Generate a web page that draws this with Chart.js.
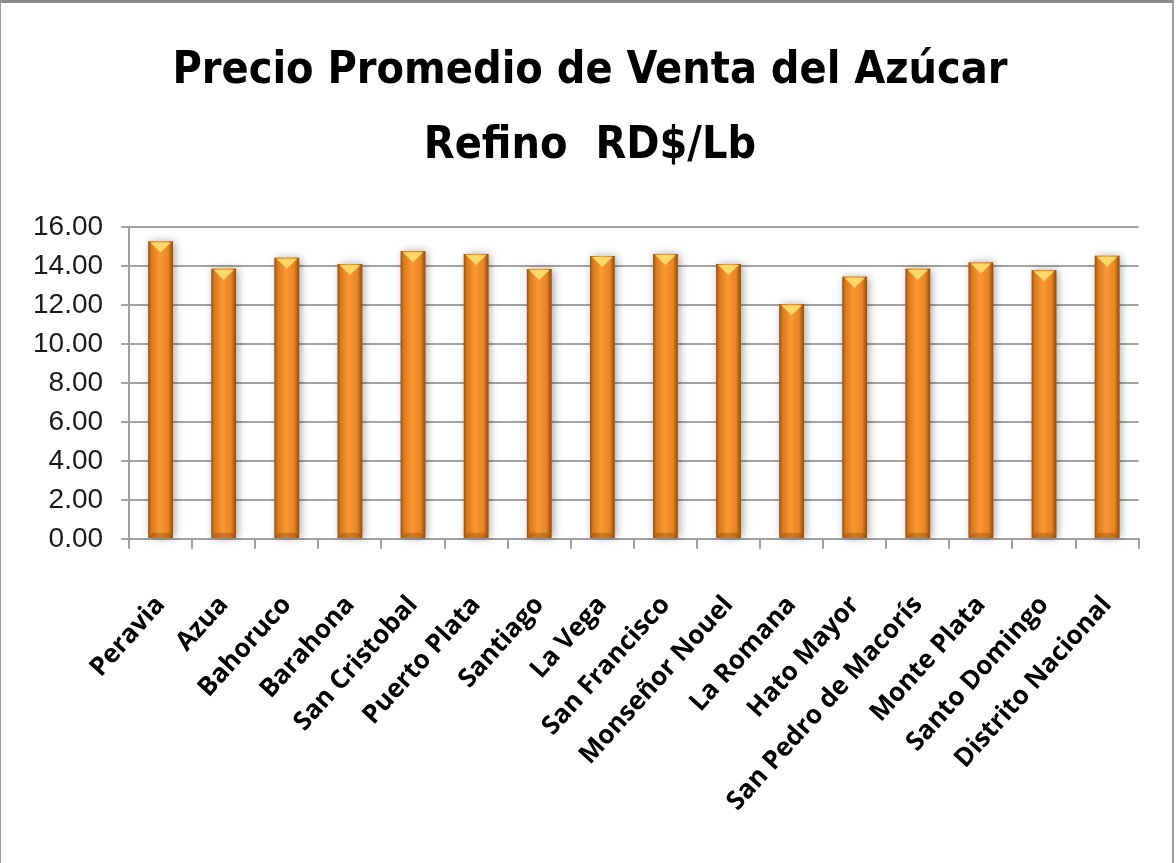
<!DOCTYPE html>
<html>
<head>
<meta charset="utf-8">
<script src="https://cdn.jsdelivr.net/npm/chart.js@4.4.1/dist/chart.umd.min.js"></script>
<style>
    body { margin: 0; background: #fff; }
    #wrap { position: absolute; left: 0; top: 0; width: 1171px; height: 860px; border-top: 3px solid #8c8c8c; border-left: 1px solid #9a9a9a; border-right: 2px solid #a0a0a0; }
    canvas { display: block; }
</style>
</head>
<body>
<div id="wrap"><canvas id="chart" width="1171" height="860"></canvas></div>
<script>
const provincias = ['Peravia', 'Azua', 'Bahoruco', 'Barahona', 'San Cristobal', 'Puerto Plata', 'Santiago', 'La Vega',
    'San Francisco', 'Monseñor Nouel', 'La Romana', 'Hato Mayor', 'San Pedro de Macorís', 'Monte Plata', 'Santo Domingo', 'Distrito Nacional'];
const precios = [15.26, 13.86, 14.42, 14.10, 14.76, 14.61, 13.84, 14.51, 14.61, 14.10, 12.04, 13.45, 13.86, 14.18, 13.78, 14.52];
const titulo = ['Precio Promedio de Venta del Azúcar', 'Refino  RD$/Lb'];

const BAR_PCT = 0.39;

function barFill(c) {
    const chart = c.chart;
    const xs = chart.scales.x;
    if (!xs || c.dataIndex === undefined) return '#f39a30';
    const cx = xs.getPixelForValue(c.dataIndex);
    const w = xs.width / provincias.length * BAR_PCT / 2;
    if (!isFinite(cx) || !isFinite(w) || w <= 0) return '#f39a30';
    const g = chart.ctx.createLinearGradient(cx - w, 0, cx + w, 0);
    g.addColorStop(0, '#9a500d');
    g.addColorStop(0.12, '#d9791c');
    g.addColorStop(0.45, '#fa9834');
    g.addColorStop(0.8, '#e88524');
    g.addColorStop(1, '#8f4c0c');
    return g;
}

// soft shadow behind bars, top bevel and darker foot on top of them
const bevel = {
    id: 'bevel',
    beforeDatasetsDraw(chart) {
        const ctx = chart.ctx;
        chart.getDatasetMeta(0).data.forEach(bar => {
            ctx.save();
            ctx.shadowColor = 'rgba(0,0,0,0.35)';
            ctx.shadowBlur = 8;
            ctx.shadowOffsetX = 2;
            ctx.fillStyle = '#d07a20';
            ctx.fillRect(bar.x - bar.width / 2, bar.y, bar.width, bar.base - bar.y);
            ctx.restore();
        });
    },
    afterDatasetsDraw(chart) {
        const ctx = chart.ctx;
        chart.getDatasetMeta(0).data.forEach(bar => {
            const l = bar.x - bar.width / 2, r = bar.x + bar.width / 2;
            ctx.save();
            ctx.fillStyle = '#ffd866';
            ctx.beginPath();
            ctx.moveTo(l + 2, bar.y + 1);
            ctx.lineTo(r - 2, bar.y + 1);
            ctx.lineTo(bar.x, bar.y + 11);
            ctx.closePath();
            ctx.fill();
            ctx.fillStyle = 'rgba(110,55,0,0.30)';
            ctx.beginPath();
            ctx.moveTo(l, bar.base);
            ctx.lineTo(l + 4, bar.base - 5);
            ctx.lineTo(r - 4, bar.base - 5);
            ctx.lineTo(r, bar.base);
            ctx.closePath();
            ctx.fill();
            ctx.restore();
        });
    }
};

const ctx = document.getElementById('chart');
const data = {
    labels: provincias,
    datasets: [{
        label: 'Precio',
        data: precios,
        backgroundColor: barFill,
        borderWidth: 0,
        barPercentage: BAR_PCT,
        categoryPercentage: 1.0,
    }]
};
const config = {
    type: 'bar',
    data: data,
    plugins: [bevel],
    options: {
        responsive: false,
        animation: false,
        layout: {
            // symmetric-ish padding so the title sits on the picture's centre
            padding: { left: 24, right: 17, top: 31, bottom: 5 }
        },
        plugins: {
            legend: { display: false },
            tooltip: { enabled: false },
            title: {
                display: true,
                text: titulo,
                color: '#000',
                font: { family: "'DejaVu Sans Condensed', sans-serif", size: 44.5, weight: 'bold', lineHeight: 1.685 },
                padding: { top: 0, bottom: 43 }
            }
        },
        scales: {
            x: {
                grid: { display: true, drawOnChartArea: false, drawTicks: true, tickLength: 10, offset: true, color: '#a0a0a0', lineWidth: 2 },
                border: { color: '#a0a0a0', width: 2 },
                ticks: {
                    color: '#000',
                    minRotation: 48,
                    maxRotation: 48,
                    padding: 41,
                    font: { family: "'Open Sans', sans-serif", size: 26, weight: 'bold' }
                }
            },
            y: {
                min: 0,
                max: 16,
                grid: { color: '#a3a3a3', lineWidth: 2, tickLength: 8 },
                border: { color: '#a0a0a0', width: 2 },
                ticks: {
                    stepSize: 2,
                    color: '#1a1a1a',
                    padding: 18,
                    font: { family: "'Liberation Sans', sans-serif", size: 28 },
                    callback: v => v.toFixed(2)
                },
                afterFit: s => { s.width -= 10; }
            },
            // empty spacer on the right, keeps the plot edge where the original has it
            y2: {
                position: 'right',
                grid: { display: false },
                border: { display: false },
                ticks: { display: false },
                afterFit: s => { s.width = 5; }
            }
        }
    }
};
_ = new Chart(ctx, config);
</script>
</body>
</html>
